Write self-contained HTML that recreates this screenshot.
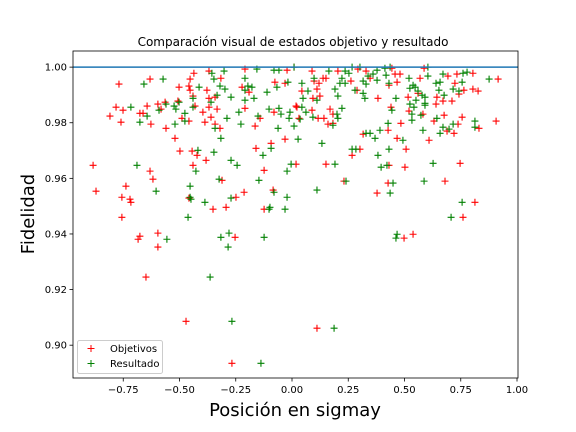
<!DOCTYPE html>
<html><head><meta charset="utf-8"><style>
html,body{margin:0;padding:0;background:#fff;}
svg{display:block;font-family:"DejaVu Sans","Liberation Sans",sans-serif;}
</style></head><body>
<svg id="chart" width="576" height="432" viewBox="0 0 576 432">
<rect width="576" height="432" fill="#fff"/>
<text x="293" y="46" text-anchor="middle" font-size="12">Comparación visual de estados objetivo y resultado</text>
<g id="marks"></g>
<g id="axes"></g>
<text x="295" y="416" text-anchor="middle" font-size="18">Posición en sigmay</text>
<text transform="translate(34,214) rotate(-90)" text-anchor="middle" font-size="18">Fidelidad</text>
<g>
<rect x="77.5" y="340.5" width="85" height="33" rx="2" fill="#fff" fill-opacity="0.8" stroke="#ccc"/>
<g><path d="M87.5 348.5h7M91 345v7" stroke="red" stroke-width="1"/><text x="110" y="352" font-size="10">Objetivos</text></g>
<g><path d="M87.5 363.5h7M91 360v7" stroke="green" stroke-width="1"/><text x="110" y="367" font-size="10">Resultado</text></g>
</g>
</svg>
<script>
const objX=[-.436,-.369,-.209,-.022,.009,-.631,-.453,-.316,-.076,-.031,-.769,-.502,-.458,-.378,-.453,-.222,-.191,-.440,-.369,-.342,-.507,-.564,-.596,-.644,-.782,-.751,-.582,-.431,-.369,-.333,-.209,-.080,.018,-.809,-.676,-.662,-.489,-.396,-.360,-.142,-.760,-.627,-.560,-.458,-.387,-.342,-.320,-.164,-.031,-.520,-.498,-.444,-.422,-.382,-.160,-.093,-.884,-.440,-.631,-.618,-.124,.018,-.311,-.738,-.871,-.756,-.720,-.716,-.458,-.213,-.249,-.084,-.351,-.293,-.124,-.756,-.596,-.676,-.684,-.596,-.253,-.649,-.471,-.267,
.089,.204,.293,.329,.444,.587,.733,.804,.916,.098,.138,.151,.262,.347,.458,.480,.569,.693,.724,.120,.431,.467,.044,.111,.289,.382,.516,.560,.644,.671,.711,.742,.764,.804,.827,.093,.124,.022,.089,.169,.182,.440,.520,.640,.031,.116,.142,.182,.160,.582,.676,.756,.631,.738,.689,.720,.831,.907,.484,.427,.316,.467,.609,.507,.302,.267,.151,.431,.502,.747,.231,.427,.680,.378,.813,.760,.538,.498,.111];
const objY=[.9978,.9986,.9993,.9989,1.0000,.9957,.9957,.9960,.9946,.9942,.9939,.9928,.9932,.9917,.9917,.9928,.9910,.9896,.9888,.9892,.9878,.9874,.9867,.9860,.9856,.9845,.9849,.9860,.9856,.9849,.9852,.9838,.9860,.9824,.9834,.9834,.9816,.9838,.9820,.9816,.9802,.9795,.9780,.9806,.9802,.9795,.9780,.9788,.9741,.9744,.9698,.9698,.9683,.9665,.9708,.9726,.9647,.9647,.9626,.9597,.9629,.9651,.9593,.9572,.9554,.9532,.9525,.9514,.9529,.9550,.9532,.9558,.9489,.9496,.9489,.9460,.9403,.9392,.9381,.9353,.9388,.9245,.9086,.8935,
.9986,.9986,.9993,.9986,.9996,.9996,.9975,.9978,.9957,.9950,.9960,.9960,.9950,.9960,.9975,.9975,.9960,.9968,.9942,.9942,.9935,.9946,.9914,.9921,.9917,.9888,.9892,.9906,.9892,.9878,.9878,.9903,.9917,.9921,.9914,.9888,.9896,.9856,.9845,.9849,.9831,.9856,.9842,.9867,.9816,.9816,.9816,.9798,.9795,.9831,.9827,.9820,.9806,.9795,.9770,.9762,.9780,.9806,.9798,.9773,.9759,.9744,.9737,.9705,.9705,.9683,.9651,.9647,.9640,.9654,.9590,.9583,.9590,.9547,.9514,.9460,.9399,.9385,.9061];
const resX=[-.302,-.356,-.156,-.080,-.058,-.573,-.347,-.209,-.658,-.413,-.320,-.298,-.196,-.178,-.067,-.018,-.111,-.209,-.440,-.333,-.271,-.209,-.169,-.716,-.560,-.524,-.502,-.516,-.440,-.476,-.360,-.102,-.058,-.236,-.049,-.013,-.009,-.644,-.591,-.476,-.289,-.151,-.676,-.520,-.342,-.227,-.062,.009,-.316,-.418,-.347,-.129,-.093,-.271,-.244,-.689,-.427,-.004,-.022,-.324,-.147,-.453,-.604,-.453,-.449,-.387,-.271,-.080,-.022,-.098,-.102,-.031,-.462,-.280,-.316,-.556,-.284,-.124,-.364,-.267,-.138,
.009,.164,.236,.267,.302,.378,.413,.436,.604,.253,.338,.360,.418,.520,.604,.671,.760,.778,.876,.098,.222,.316,.378,.044,.213,.236,.329,.431,.538,.640,.658,.756,.071,.191,.280,.316,.324,.204,.049,.111,.462,.524,.547,.560,.578,.591,.653,.676,.716,.742,.551,.591,.524,.542,.591,.222,.444,.044,.062,.200,.533,.573,.036,.093,.182,.204,.533,.644,.671,.698,.716,.813,.813,.658,.427,.391,.329,.347,.369,.582,.493,.027,.133,.267,.284,.431,.382,.191,.422,.396,.627,.240,.449,.587,.111,.436,.756,.707,.467,.462,.187];
const resY=[.9986,.9978,.9993,.9989,.9989,.9957,.9957,.9960,.9939,.9928,.9932,.9921,.9932,.9928,.9928,.9946,.9910,.9917,.9888,.9899,.9892,.9881,.9888,.9856,.9867,.9860,.9874,.9849,.9856,.9834,.9874,.9849,.9852,.9838,.9831,.9816,.9838,.9824,.9845,.9806,.9816,.9824,.9802,.9795,.9780,.9795,.9780,.9788,.9744,.9701,.9694,.9683,.9708,.9665,.9647,.9647,.9626,.9651,.9626,.9597,.9593,.9572,.9554,.9532,.9525,.9514,.9529,.9550,.9532,.9496,.9489,.9489,.9460,.9403,.9388,.9381,.9353,.9388,.9245,.9086,.8935,
1.0000,.9986,.9986,1.0000,1.0000,.9989,.9996,1.0000,1.0000,.9978,.9968,.9975,.9971,.9960,.9968,.9975,.9978,.9982,.9957,.9960,.9960,.9950,.9953,.9942,.9942,.9942,.9939,.9942,.9935,.9942,.9946,.9946,.9914,.9921,.9917,.9906,.9888,.9896,.9888,.9881,.9888,.9924,.9928,.9914,.9899,.9892,.9917,.9899,.9921,.9914,.9881,.9870,.9867,.9856,.9863,.9852,.9845,.9856,.9838,.9831,.9831,.9827,.9813,.9820,.9791,.9816,.9809,.9816,.9784,.9777,.9795,.9806,.9784,.9762,.9798,.9773,.9762,.9762,.9744,.9773,.9737,.9741,.9726,.9705,.9705,.9705,.9683,.9651,.9647,.9640,.9654,.9590,.9583,.9590,.9558,.9547,.9514,.9460,.9399,.9385,.9061];
const xTicks=[-0.75,-0.50,-0.25,0.00,0.25,0.50,0.75,1.00];
const yTicks=[0.90,0.92,0.94,0.96,0.98,1.00];
const refLine=1.0;

const L=73,R=518,T=51,B=378;
const xMin=-0.9733,xMax=1.0044,yMin=0.8882,yMax=1.0058;
function sx(v){return L+(v-xMin)/(xMax-xMin)*(R-L);}
function sy(v){return B-(v-yMin)/(yMax-yMin)*(B-T);}
const NS='http://www.w3.org/2000/svg';
const marks=document.getElementById('marks');
const axes=document.getElementById('axes');
function mk(tag,attrs,parent){const e=document.createElementNS(NS,tag);for(const k in attrs)e.setAttribute(k,attrs[k]);parent.appendChild(e);return e;}
function fmt(v){return (v<0?'\u2212':'')+Math.abs(v).toFixed(2);}

function drawSeries(xs,ys,color,name){
  const g=mk('g',{},marks);
  
  
  for(let i=0;i<xs.length;i++){
    const x=sx(xs[i]),y=sy(ys[i]);
    const p=mk('path',{d:'M'+(x-3.5)+' '+y+'h7M'+x+' '+(y-3.5)+'v7',stroke:color,'stroke-width':1.1,fill:'none'},g);
    
    
  }
}
drawSeries(objX,objY,'red','objetivos');
drawSeries(resX,resY,'green','resultado');

const ref=mk('line',{x1:L,x2:R,y1:sy(refLine),y2:sy(refLine),stroke:'#1f77b4','stroke-width':1.5},marks);



const frame=mk('rect',{x:L,y:T,width:R-L,height:B-T,fill:'none',stroke:'#000','stroke-width':0.8},axes);


xTicks.forEach(v=>{
  const x=sx(v);
  const t=mk('line',{x1:x,x2:x,y1:B,y2:B+3.5,stroke:'#000','stroke-width':0.8},axes);
  
  
  const lb=mk('text',{x:x,y:B+15,'text-anchor':'middle','font-size':10},axes);
  lb.textContent=fmt(v);
  
  
});
yTicks.forEach(v=>{
  const y=sy(v);
  const t=mk('line',{x1:L-3.5,x2:L,y1:y,y2:y,stroke:'#000','stroke-width':0.8},axes);
  
  
  const lb=mk('text',{x:L-6,y:y+3.5,'text-anchor':'end','font-size':10},axes);
  lb.textContent=v.toFixed(2);
  
  
});
</script>
</body></html>
